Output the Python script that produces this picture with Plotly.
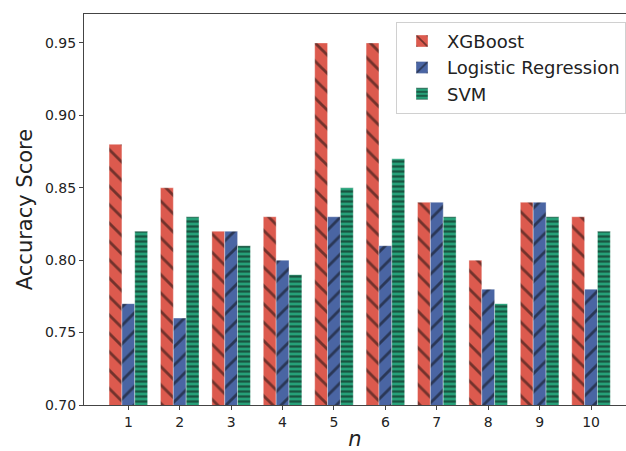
import plotly.graph_objects as go

categories = [1, 2, 3, 4, 5, 6, 7, 8, 9, 10]
xgboost = [0.88, 0.85, 0.82, 0.83, 0.95, 0.95, 0.84, 0.80, 0.84, 0.83]
logreg = [0.77, 0.76, 0.82, 0.80, 0.83, 0.81, 0.84, 0.78, 0.84, 0.78]
svm = [0.82, 0.83, 0.81, 0.79, 0.85, 0.87, 0.83, 0.77, 0.83, 0.82]

series = [
    ("XGBoost", xgboost, "#dc5a4e", "\\", 13, 0.22),
    ("Logistic Regression", logreg, "#4a65a3", "/", 13, 0.22),
    ("SVM", svm, "#26a078", "-", 5, 0.45),
]

fig = go.Figure()
for name, vals, color, shape, size, sol in series:
    fig.add_trace(go.Bar(
        x=categories, y=vals, name=name,
        marker=dict(color=color, line=dict(width=0.6, color="rgba(255,255,255,0.6)"),
                    pattern=dict(shape=shape, size=size, solidity=sol,
                                 fgcolor="#0a0a0a", bgcolor=color, fillmode="overlay")),
    ))

fig.update_layout(
    width=626, height=451,
    margin=dict(l=84, r=0, t=14, b=46),
    paper_bgcolor="white", plot_bgcolor="white",
    barmode="group", bargap=0.25, bargroupgap=0,
    font=dict(family="DejaVu Sans", color="#222222"),
    legend=dict(x=1, xanchor="right", y=0.98, yanchor="top",
                bordercolor="#d0d0d0", borderwidth=1, bgcolor="rgba(255,255,255,0.8)",
                font=dict(size=18, color="#222222"), tracegroupgap=0, itemwidth=40),
    xaxis=dict(range=[0.1375, 10.68], tickvals=categories, ticktext=[str(c) for c in categories],
               showline=True, linecolor="#444444", linewidth=1.2, mirror=True,
               ticks="outside", ticklen=4, tickcolor="#444444", showgrid=False, zeroline=False,
               tickfont=dict(size=14),
               title=dict(text="<i>n</i>", font=dict(size=21), standoff=4)),
    yaxis=dict(range=[0.70, 0.970], tickvals=[0.70, 0.75, 0.80, 0.85, 0.90, 0.95],
               tickformat=".2f", showline=True, linecolor="#444444", linewidth=1.2,
               ticks="outside", ticklen=4, tickcolor="#444444", showgrid=False, zeroline=False,
               tickfont=dict(size=14),
               title=dict(text="Accuracy Score", font=dict(size=21), standoff=6)),
)

fig.write_html("out.html")
